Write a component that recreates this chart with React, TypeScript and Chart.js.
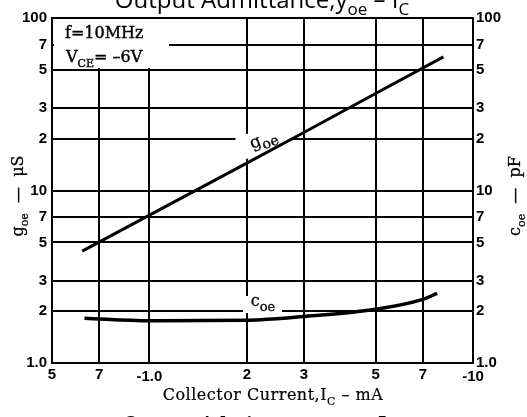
import React, { useEffect, useRef } from "react";
import { Chart, registerables } from "chart.js";

Chart.register(...registerables);

// Axis ticks (collector current magnitude in mA, log scale)
const currentTicks = [0.5, 0.7, 1, 2, 3, 5, 7, 10];
const currentTickLabels = ["5", "7", "-1.0", "2", "3", "5", "7", "-10"];
const currentTickLowered = [false, false, true, false, false, false, false, true];
// Value ticks (µS on left, pF on right, both log 1..100)
const valueTicks = [1, 2, 3, 5, 7, 10, 20, 30, 50, 70, 100];
const leftTickLabels = ["1.0", "2", "3", "5", "7", "10", "2", "3", "5", "7", "100"];
const rightTickLabels = ["1.0", "2", "3", "5", "7", "10", "2", "3", "5", "7", "100"];

// goe (µS) vs |Ic|
const goeCurrent = [0.62, 1, 2, 3, 5, 8.1];
const goeValues = [4.45, 7.2, 14.4, 21.7, 36.5, 59.5];
// coe (pF) vs |Ic|
const coeCurrent = [0.63, 1, 2, 3, 5, 7, 7.75];
const coeValues = [1.82, 1.76, 1.77, 1.86, 2.05, 2.34, 2.53];

type Seg = { t: string; sub?: boolean };

function drawSegs(
  ctx: CanvasRenderingContext2D,
  x: number,
  y: number,
  segs: Seg[],
  size: number,
  family: string,
  weight: string,
  align: "left" | "center",
  opts: { subScale?: number; stroke?: number; spacing?: number } = {}
) {
  const subScale = opts.subScale ?? 0.7;
  const sp = opts.spacing ?? 0;
  (ctx as any).letterSpacing = `${sp}px`;
  let total = 0;
  for (const s of segs) {
    ctx.font = `${weight} ${s.sub ? Math.round(size * subScale) : size}px ${family}`;
    total += ctx.measureText(s.t).width;
  }
  let cx = align === "center" ? x - total / 2 : x;
  ctx.textAlign = "left";
  ctx.textBaseline = "alphabetic";
  for (const s of segs) {
    const sz = s.sub ? Math.round(size * subScale) : size;
    ctx.font = `${weight} ${sz}px ${family}`;
    const yy = s.sub ? y + size * 0.3 : y;
    ctx.fillText(s.t, cx, yy);
    if (opts.stroke) {
      ctx.lineWidth = opts.stroke;
      ctx.strokeStyle = ctx.fillStyle as string;
      ctx.strokeText(s.t, cx, yy);
    }
    cx += ctx.measureText(s.t).width;
  }
  (ctx as any).letterSpacing = "0px";
  return total;
}

const serif = "'DejaVu Serif', serif";
const sans = "'Open Sans', sans-serif";

const decorPlugin = {
  id: "decor",
  beforeDatasetsDraw(chart: any) {
    const ctx: CanvasRenderingContext2D = chart.ctx;
    ctx.save();
    ctx.fillStyle = "#fff";
    // condition box
    ctx.fillRect(54, 19, 115, 49);
    ctx.fillStyle = "#000";
    drawSegs(ctx, 65, 38, [{ t: "f=10MHz" }], 16, serif, "normal", "left", { stroke: 0.4 });
    drawSegs(ctx, 66, 62, [{ t: "V" }, { t: "CE", sub: true }, { t: "= –6V" }], 16, serif, "normal", "left", { stroke: 0.4 });

    // goe label
    ctx.save();
    ctx.translate(264, 141);
    ctx.rotate((-22 * Math.PI) / 180);
    ctx.fillStyle = "#fff";
    ctx.fillRect(-26, -13, 52, 23);
    ctx.fillStyle = "#000";
    drawSegs(ctx, 0, 3, [{ t: "g" }, { t: "oe", sub: true }], 17, serif, "normal", "center", { subScale: 0.8, stroke: 0.3 });
    ctx.restore();

    // coe label
    ctx.fillStyle = "#fff";
    ctx.fillRect(243, 296, 39, 17);
    ctx.fillStyle = "#000";
    drawSegs(ctx, 263, 306, [{ t: "c" }, { t: "oe", sub: true }], 16, serif, "normal", "center", { subScale: 0.8, stroke: 0.3 });
    ctx.restore();
  },
  afterDraw(chart: any) {
    const ctx: CanvasRenderingContext2D = chart.ctx;
    ctx.save();
    ctx.fillStyle = "#000";
    // cut-off title at top
    drawSegs(ctx, 262, 8, [{ t: "Output Admittance,y" }, { t: "oe", sub: true }, { t: " – I" }, { t: "C", sub: true }], 24, sans, "normal", "center");
    // x axis title
    drawSegs(ctx, 273, 400, [{ t: "Collector Current,I" }, { t: "C", sub: true }, { t: " – mA" }], 16, serif, "normal", "center", { stroke: 0.2, spacing: 0.5 });
    // cut-off caption at bottom
    drawSegs(ctx, 123, 429.5, [{ t: "Output Admittance, y" }, { t: "oe", sub: true }, { t: " – I" }, { t: "C", sub: true }], 18, serif, "bold", "left");
    // left y title
    ctx.save();
    ctx.translate(23, 196);
    ctx.rotate(-Math.PI / 2);
    drawSegs(ctx, 0, 0, [{ t: "g" }, { t: "oe", sub: true }, { t: "  —  μS" }], 16, serif, "normal", "center", { stroke: 0.3 });
    ctx.restore();
    // right y title
    ctx.save();
    ctx.translate(520, 196);
    ctx.rotate(-Math.PI / 2);
    drawSegs(ctx, 0, 0, [{ t: "c" }, { t: "oe", sub: true }, { t: "  —  pF" }], 16, serif, "normal", "center", { stroke: 0.3 });
    ctx.restore();
    ctx.restore();
  },
};

export default function App() {
  const ref = useRef<HTMLCanvasElement | null>(null);

  useEffect(() => {
    if (!ref.current) return;
    const tickFont = { family: "'Liberation Sans', Arial, sans-serif", size: 15, weight: "bold" as const };
    const chart = new Chart(ref.current, {
      type: "line",
      data: {
        datasets: [
          {
            label: "goe",
            data: goeCurrent.map((x, i) => ({ x, y: goeValues[i] })),
            borderColor: "#000",
            borderWidth: 3,
            pointRadius: 0,
            yAxisID: "y",
            tension: 0,
          },
          {
            label: "coe",
            data: coeCurrent.map((x, i) => ({ x, y: coeValues[i] })),
            borderColor: "#000",
            borderWidth: 3.5,
            pointRadius: 0,
            yAxisID: "y2",
            cubicInterpolationMode: "monotone",
          },
        ],
      },
      options: {
        responsive: false,
        animation: false,
        devicePixelRatio: 1,
        layout: { padding: { top: 18, left: 0, right: 0, bottom: 0 } },
        plugins: { legend: { display: false }, tooltip: { enabled: false }, title: { display: false } },
        scales: {
          x: {
            type: "logarithmic",
            min: 0.5,
            max: 10,
            afterBuildTicks: (s: any) => {
              s.ticks = currentTicks.map((v) => ({ value: v }));
            },
            afterFit: (s: any) => {
              s.height = 54;
            },
            ticks: {
              autoSkip: false,
              maxRotation: 0,
              minRotation: 0,
              padding: 3,
              color: "#000",
              font: (c: any) => ({ ...tickFont, lineHeight: currentTickLowered[c.index] ? 0.5 : 1.2 }),
              callback: (v: any) => {
                const k = currentTicks.indexOf(Number(v));
                if (k < 0) return "";
                return currentTickLowered[k] ? ["", currentTickLabels[k]] : currentTickLabels[k];
              },
            },
            grid: { color: "#000", lineWidth: 2, drawTicks: false },
            border: { color: "#000", width: 2 },
          },
          y: {
            type: "logarithmic",
            position: "left",
            min: 1,
            max: 100,
            afterBuildTicks: (s: any) => {
              s.ticks = valueTicks.map((v) => ({ value: v }));
            },
            afterFit: (s: any) => {
              s.width = 52;
            },
            ticks: {
              autoSkip: false,
              padding: 5,
              color: "#000",
              font: tickFont,
              callback: (v: any) => {
                const i = valueTicks.indexOf(Number(v));
                return i >= 0 ? leftTickLabels[i] : "";
              },
            },
            grid: { color: "#000", lineWidth: 2, drawTicks: false },
            border: { color: "#000", width: 2 },
          },
          y2: {
            type: "logarithmic",
            position: "right",
            min: 1,
            max: 100,
            afterBuildTicks: (s: any) => {
              s.ticks = valueTicks.map((v) => ({ value: v }));
            },
            afterFit: (s: any) => {
              s.width = 54;
            },
            ticks: {
              autoSkip: false,
              padding: 3,
              color: "#000",
              font: tickFont,
              callback: (v: any) => {
                const i = valueTicks.indexOf(Number(v));
                return i >= 0 ? rightTickLabels[i] : "";
              },
            },
            grid: { display: false, drawTicks: false },
            border: { color: "#000", width: 2 },
          },
        },
      },
      plugins: [decorPlugin],
    } as any);
    return () => chart.destroy();
  }, []);

  return (
    <div style={{ position: "absolute", left: 0, top: 0, width: 527, height: 417, background: "#fff" }}>
      <canvas ref={ref} width={527} height={417} style={{ display: "block", width: 527, height: 417 }} />
    </div>
  );
}
